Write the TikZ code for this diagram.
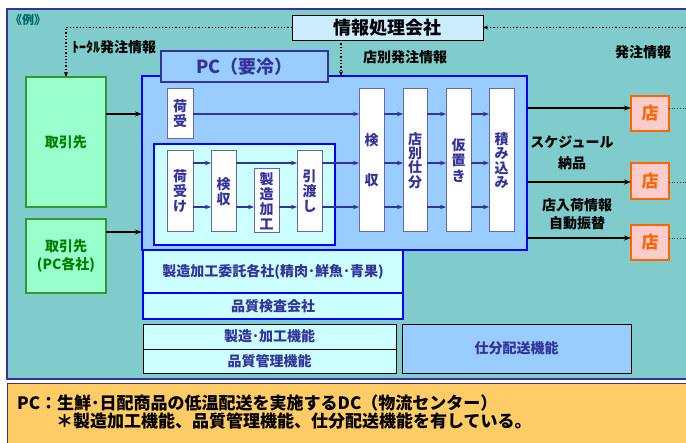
\documentclass[tikz,border=0pt]{standalone}
\usepackage{fontspec}
\setmainfont{Noto Sans CJK JP}
\usetikzlibrary{arrows.meta}
\definecolor{tealbg}{HTML}{80CCCC}
\definecolor{navy}{HTML}{333399}
\definecolor{infofill}{HTML}{CCECFF}
\definecolor{pcblue}{HTML}{99CCFF}
\definecolor{pure}{HTML}{0000FF}
\definecolor{cyanfill}{HTML}{CCFFFF}
\definecolor{greenfill}{HTML}{99FFCC}
\definecolor{greenline}{HTML}{339933}
\definecolor{greentext}{HTML}{008000}
\definecolor{storefill}{HTML}{FFCCCC}
\definecolor{storeline}{HTML}{FF6600}
\definecolor{orangefill}{HTML}{FFCC66}
\definecolor{colline}{HTML}{6666AA}
\definecolor{exdark}{HTML}{006666}
\tikzset{
  bx/.style={inner sep=0pt, outer sep=0pt},
  colbox/.style={bx, draw=colline, fill=white, line width=1pt, align=center,
    text=navy, font=\bfseries\fontsize{14}{15}\selectfont},
  bluebox/.style={bx, draw=pure, line width=1.8pt},
  blkbox/.style={bx, draw=black, line width=0.9pt},
  greenbox/.style={bx, draw=greenline, fill=greenfill, line width=1.3pt, align=center,
    text=greentext, font=\bfseries\fontsize{14}{18}\selectfont},
  storebox/.style={bx, draw=storeline, fill=storefill, line width=1.8pt,
    text=storeline, font=\bfseries\fontsize{17}{17}\selectfont},
  lbl/.style={inner sep=0pt, font=\bfseries\fontsize{14}{18}\selectfont},
  navytxt/.style={text=navy, font=\bfseries\fontsize{14}{16}\selectfont},
  flow/.style={draw=navy, line width=1.3pt, -{Stealth[length=6pt,width=4.5pt]}},
  bigarr/.style={draw=black, line width=1.3pt, -{Stealth[length=7pt,width=5pt]}},
  dotarr/.style={draw=black, line width=1.3pt, dotted, -{Stealth[length=5pt,width=4pt]}},
  thindot/.style={draw=black!80, line width=0.7pt, dotted},
}
\begin{document}
\begin{tikzpicture}[x=1pt,y=-1pt]
\useasboundingbox (0,0) rectangle (686,443);
\clip (0,0) rectangle (686,443);
% backgrounds
\node[bx, draw=navy, fill=tealbg, line width=1.8pt, minimum width=683pt, minimum height=370pt] (bg) at (348.5,194) {};
\node[bx, draw=navy, fill=orangefill, line width=0.9pt, minimum width=683pt, minimum height=64pt] (note) at (348.5,415) {};
\node[lbl, text=exdark, font=\bfseries\fontsize{12}{14}\selectfont] (rei) at (28,20) {《例》};
% info company
\node[blkbox, fill=infofill, minimum width=191pt, minimum height=25pt, font=\bfseries\fontsize{18}{20}\selectfont] (info) at (387.5,27.5) {情報処理会社};
% big PC box
\node[bluebox, fill=pcblue, minimum width=385pt, minimum height=174pt] (big) at (334.5,163) {};
\node[bx, draw=navy, fill=pcblue, line width=1.8pt, minimum width=167pt, minimum height=31pt, text=navy, font=\bfseries\fontsize{18}{20}\selectfont] (pcc) at (244.5,66.5) {PC（要冷）};
% suppliers
\node[greenbox, minimum width=80pt, minimum height=130pt] (g1) at (66,142) {取引先};
\node[greenbox, minimum width=80pt, minimum height=74pt] (g2) at (66,256) {取引先\\(PC各社)};
% top receiving
\node[colbox, minimum width=26pt, minimum height=50pt] (nu) at (180,114) {荷\\受};
% inner processing box
\node[bluebox, fill=cyanfill, minimum width=181pt, minimum height=101pt] (inner) at (244.5,194.5) {};
\node[colbox, minimum width=26pt, minimum height=81pt] (nk) at (180,191.5) {荷\\受\\け};
\node[colbox, minimum width=25pt, minimum height=81pt] (ks) at (223.5,191.5) {検\\収};
\node[colbox, minimum width=25pt, minimum height=64pt] (sz) at (266.5,201) {製\\造\\加\\工};
\node[colbox, minimum width=25pt, minimum height=81pt] (hw) at (309.5,191.5) {引\\渡\\し};
% main columns
\node[colbox, minimum width=25pt, minimum height=143pt] (k1) at (371.5,160.5) {検\\[25pt]収};
\node[colbox, minimum width=24pt, minimum height=143pt, font=\bfseries\fontsize{14}{14.3}\selectfont] (k2) at (415,160.5) {店\\別\\仕\\分};
\node[colbox, minimum width=25pt, minimum height=143pt, font=\bfseries\fontsize{14}{15.5}\selectfont] (k3) at (458.5,160.5) {仮\\置\\き};
\node[colbox, minimum width=25pt, minimum height=143pt, font=\bfseries\fontsize{14}{14.3}\selectfont] (k4) at (501.5,160.5) {積\\み\\込\\み};
% stores
\node[storebox, minimum width=38pt, minimum height=35pt] (s1) at (650,113.5) {店};
\node[storebox, minimum width=38pt, minimum height=36pt] (s2) at (650,181) {店};
\node[storebox, minimum width=38pt, minimum height=35pt] (s3) at (650,242.5) {店};
% lower boxes
\node[bluebox, fill=cyanfill, minimum width=260pt, minimum height=43pt, navytxt] (itaku) at (273,271.5) {製造加工委託各社(精肉･鮮魚･青果)};
\node[bluebox, fill=cyanfill, minimum width=260pt, minimum height=26pt, navytxt] (hk) at (273,306) {品質検査会社};
\node[blkbox, fill=cyanfill, minimum width=253pt, minimum height=25pt, navytxt] (seizo) at (269.5,336.5) {製造･加工機能};
\node[blkbox, fill=cyanfill, minimum width=253pt, minimum height=24pt, navytxt] (hinkan) at (269.5,361) {品質管理機能};
\node[blkbox, fill=pcblue, minimum width=229pt, minimum height=49pt, navytxt] (shiwake) at (516.5,348.5) {仕分配送機能};
% labels
\node[lbl, anchor=west] (lt) at (72,47) {ﾄｰﾀﾙ発注情報};
\node[lbl, anchor=west] (ls) at (363,57.5) {店別発注情報};
\node[lbl, anchor=west] (lh) at (615,52) {発注情報};
\node[lbl, align=center, font=\bfseries\fontsize{14}{21}\selectfont] (lsch) at (572,152.5) {スケジュール\\納品};
\node[lbl, align=center, font=\bfseries\fontsize{14}{18}\selectfont] (lnyu) at (577,214) {店入荷情報\\自動振替};
\node[inner sep=0pt, anchor=west, font=\bfseries\fontsize{17}{20}\selectfont] (n1) at (17,403) {PC：生鮮･日配商品の低温配送を実施するDC（物流センター）};
\node[inner sep=0pt, anchor=west, font=\bfseries\fontsize{17}{20}\selectfont] (n2) at (56,421) {＊製造加工機能、品質管理機能、仕分配送機能を有している。};
% helper coordinates
\coordinate (rA) at (0,114);
\coordinate (rB) at (0,163);
\coordinate (rC) at (0,207);
\coordinate (rG2) at (0,232);
\coordinate (rS1) at (0,108);
\coordinate (rS2) at (0,182);
\coordinate (rS3) at (0,238);
\coordinate (xdown) at (341,0);
\coordinate (xtot) at (66,0);
\coordinate (edge0) at (686,27.5);
\coordinate (edgeR) at (686,0);
% dotted info flows
\draw[dotarr] (edge0) -- (info.east);
\draw[dotarr] (info.west) -| (g1.north);
\draw[dotarr] (info.south -| xdown) -- (big.north -| xdown);
% supplier arrows
\draw[bigarr] (g1.east |- rA) -- (big.west |- rA);
\draw[bigarr] (g2.east |- rG2) -- (big.west |- rG2);
% inner flows
\draw[flow] (nk.east |- rB) -- (ks.west |- rB);
\draw[flow] (nk.east |- rC) -- (ks.west |- rC);
\draw[flow] (ks.east |- rB) -- (hw.west |- rB);
\draw[flow] (ks.east |- rC) -- (sz.west |- rC);
\draw[flow] (sz.east |- rC) -- (hw.west |- rC);
\draw[flow] (nu.east |- rA) -- (k1.west |- rA);
\draw[flow] (hw.east |- rB) -- (k1.west |- rB);
\draw[flow] (hw.east |- rC) -- (k1.west |- rC);
\foreach \a/\b in {k1/k2,k2/k3,k3/k4}{
  \draw[flow] (\a.east |- rA) -- (\b.west |- rA);
  \draw[flow] (\a.east |- rB) -- (\b.west |- rB);
  \draw[flow] (\a.east |- rC) -- (\b.west |- rC);
}
% to stores
\draw[bigarr] (big.east |- rS1) -- (s1.west |- rS1);
\draw[bigarr] (big.east |- rS2) -- (s2.west |- rS2);
\draw[bigarr] (big.east |- rS3) -- (s3.west |- rS3);
\draw[thindot] (s1.east |- rS1) -- (edgeR |- rS1);
\draw[thindot] (s2.east |- rS2) -- (edgeR |- rS2);
\draw[thindot] (s3.east |- rS3) -- (edgeR |- rS3);
\end{tikzpicture}
\end{document}
